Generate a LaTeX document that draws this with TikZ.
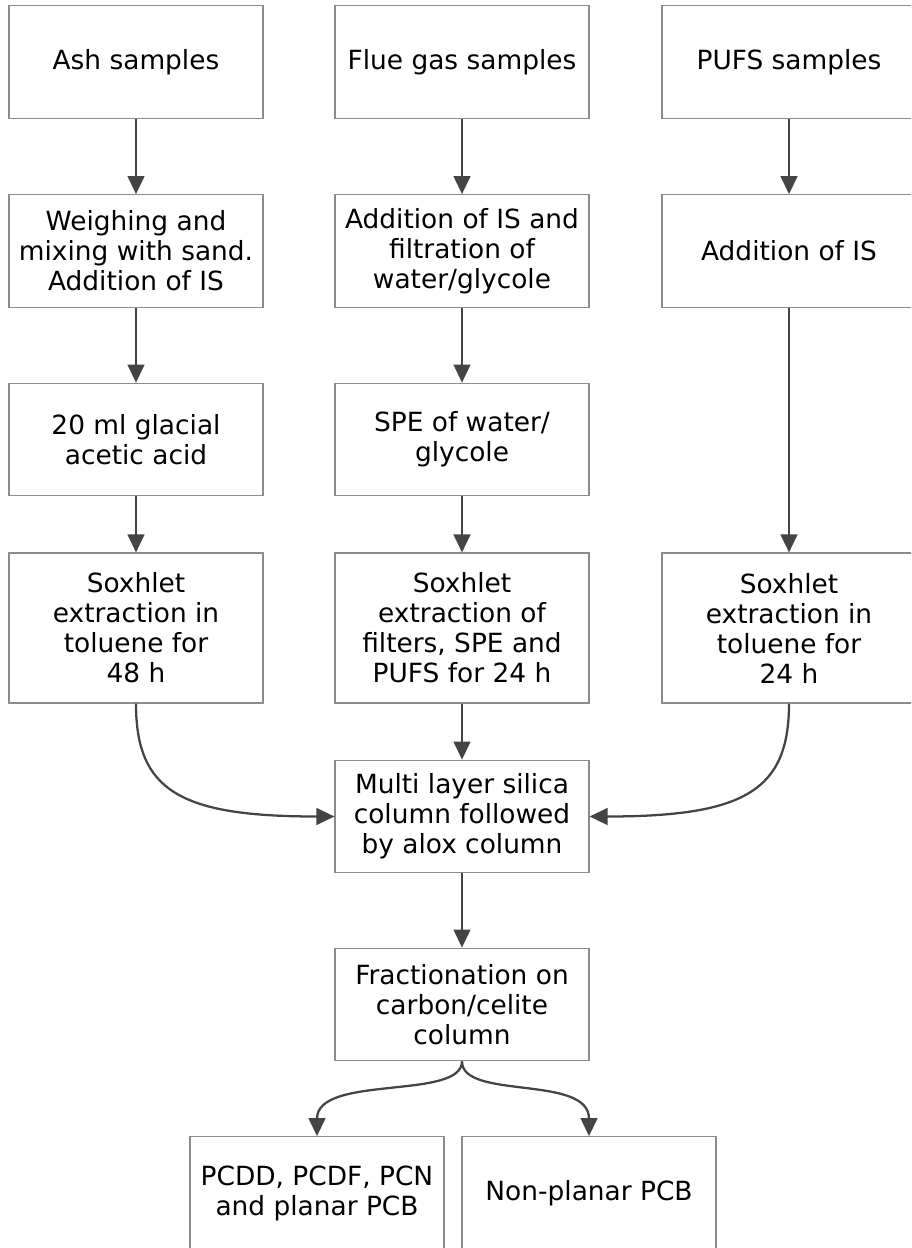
\documentclass[tikz,border=0pt]{standalone}
\usepackage{fontspec}
\setmainfont{DejaVu Sans}
\usetikzlibrary{positioning,arrows.meta}

\definecolor{boxline}{HTML}{8C8C8C}
\definecolor{arrowline}{HTML}{444444}

\tikzset{
    stepbox/.style={draw=boxline, line width=0.8pt, fill=white, align=center,
        minimum width=190.5pt, minimum height=84.5pt, inner sep=0pt,
        font=\fontsize{19.8}{22.5}\selectfont},
    tallbox/.style={stepbox, minimum height=112.5pt},
    flow/.style={draw=arrowline, line width=1.7pt,
        -{Triangle[length=13.5pt,width=12.5pt]}}
}

\begin{document}
\begin{tikzpicture}[x=0.75pt, y=-0.75pt]
    \useasboundingbox (0,0) rectangle (911,1248);
    \clip (0,0) rectangle (911,1248);

    % first row: the three kinds of sample
    \node[stepbox] (ash)  at (136,62) {Ash samples};
    \node[stepbox] (flue) at (462,62) {Flue gas samples};
    \node[stepbox] (pufs) at (789,62) {PUFS samples};

    % ash column
    \node[stepbox] (weigh) at (136,251) {Weighing and\\mixing with sand.\\Addition of IS};
    \node[stepbox] (acid)  at (136,439.5) {20 ml glacial\\acetic acid};
    \node[tallbox] (soxash) at (136,628) {Soxhlet\\extraction in\\toluene for\\48 h};

    % flue gas column
    \node[stepbox] (filtr) at (462,251) {Addition of IS and\\filtration of\\water/glycole};
    \node[stepbox] (spe)   at (462,439.5) {SPE of water/\\glycole};
    \node[tallbox] (soxflue) at (462,628) {Soxhlet\\extraction of\\filters, SPE and\\PUFS for 24 h};

    % PUFS column
    \node[stepbox] (addis)  at (789,251) {Addition of IS};
    \node[tallbox] (soxpufs) at (789,628) {Soxhlet\\extraction in\\toluene for\\24 h};

    % clean-up and fractions
    \node[stepbox] (silica) at (462,816.5) {Multi layer silica\\column followed\\by alox column};
    \node[stepbox] (frac)   at (462,1004.5) {Fractionation on\\carbon/celite\\column};
    \node[stepbox] (planar)    at (317,1193) {PCDD, PCDF, PCN\\and planar PCB};
    \node[stepbox] (nonplanar) at (589,1193) {Non-planar PCB};

    \draw[flow] (ash) -- (weigh);
    \draw[flow] (weigh) -- (acid);
    \draw[flow] (acid) -- (soxash);
    \draw[flow] (flue) -- (filtr);
    \draw[flow] (filtr) -- (spe);
    \draw[flow] (spe) -- (soxflue);
    \draw[flow] (pufs) -- (addis);
    \draw[flow] (addis) -- (soxpufs);
    \draw[flow] (soxflue) -- (silica);
    \draw[flow] (silica) -- (frac);

    \draw[flow] (soxash.south) .. controls +(0,87) and +(-155,0) .. (silica.west);
    \draw[flow] (soxpufs.south) .. controls +(0,87) and +(155,0) .. (silica.east);

    \draw[flow] (frac.south) .. controls +(0,39) and +(0,-62) .. (planar.north);
    \draw[flow] (frac.south) .. controls +(0,39) and +(0,-62) .. (nonplanar.north);
\end{tikzpicture}
\end{document}
